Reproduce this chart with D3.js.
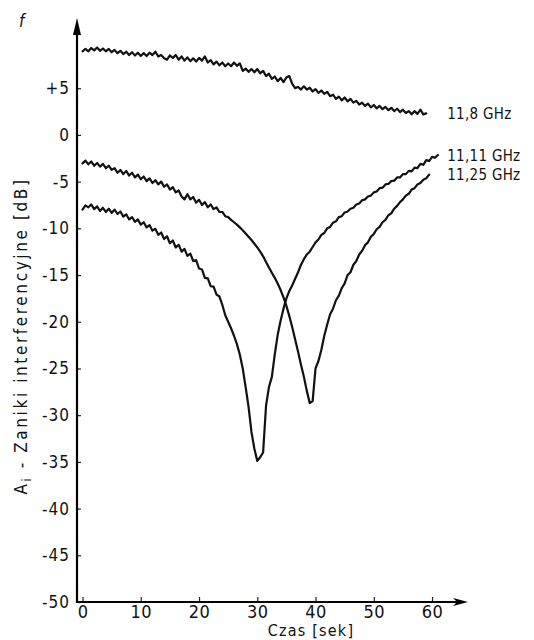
<!DOCTYPE html>
<html>
<head>
<meta charset="utf-8">
<script src="https://cdn.jsdelivr.net/npm/d3@7"></script>
<style>
  body { margin: 0; background: #fff; }
  text { font-family: "DejaVu Sans Condensed", "DejaVu Sans", sans-serif; fill: #111; }
</style>
</head>
<body>
<svg id="chart" width="534" height="640"></svg>
<script>
// Recorder traces of interference fading, sampled every 0.5 s
const step = 0.5;

const seriesNames = ["11,8 GHz", "11,11 GHz", "11,25 GHz"];

const fade118 = [
  8.95, 9.20, 8.95, 9.30, 9.05, 9.35, 9.00, 9.25, 8.95, 9.20,
  8.85, 9.10, 8.75, 9.00, 8.65, 8.90, 8.55, 8.85, 8.50, 8.80,
  8.45, 8.75, 8.45, 8.80, 8.55, 8.90, 8.40, 8.55, 8.20, 8.05,
  8.50, 8.25, 8.55, 8.05, 8.40, 7.95, 8.30, 7.90, 8.20, 7.85,
  8.25, 7.95, 8.40, 7.75, 8.00, 7.55, 7.85, 7.45, 7.75, 7.35,
  7.65, 7.35, 7.75, 7.40, 7.65, 6.85, 7.10, 6.75, 7.05, 6.70,
  7.05, 6.60, 6.85, 6.30, 6.55, 6.00, 6.25, 5.75, 6.10, 5.65,
  6.15, 6.30, 5.45, 5.00, 5.15, 4.85, 5.20, 4.85, 5.05, 4.65,
  4.90, 4.50, 4.75, 4.40, 4.60, 4.15, 4.30, 3.85, 4.10, 3.70,
  4.00, 3.60, 3.85, 3.45, 3.65, 3.25, 3.45, 3.10, 3.35, 2.95,
  3.20, 2.85, 3.10, 2.75, 3.00, 2.65, 2.90, 2.55, 2.80, 2.45,
  2.70, 2.35, 2.55, 2.20, 2.55, 2.25, 2.70, 2.20, 2.30
];

const fade1111 = [
  -8.00, -7.55, -7.75, -7.45, -7.95, -7.65, -8.15, -7.80, -8.25, -7.90,
  -8.35, -8.00, -8.45, -8.20, -8.75, -8.50, -9.05, -8.80, -9.30, -9.05,
  -9.60, -9.35, -9.90, -9.65, -10.25, -10.05, -10.70, -10.45, -11.15, -10.85,
  -11.60, -11.30, -12.05, -11.75, -12.50, -12.20, -12.95, -12.70, -13.50, -13.40,
  -14.30, -14.40, -15.30, -15.35, -16.20, -16.25, -17.10, -17.30, -18.20, -19.30,
  -20.00, -20.70, -21.50, -22.40, -23.50, -25.00, -27.00, -29.10, -31.80, -33.60,
  -34.90, -34.50, -34.00, -29.00, -27.00, -25.90, -23.50, -21.40, -19.90, -18.60,
  -17.50, -16.70, -16.10, -15.40, -14.70, -13.90, -13.30, -12.80, -12.50, -12.00,
  -11.50, -11.20, -10.70, -10.50, -10.00, -9.85, -9.40, -9.25, -8.80, -8.70,
  -8.30, -8.20, -7.90, -7.80, -7.45, -7.35, -7.00, -6.90, -6.60, -6.50,
  -6.15, -6.05, -5.70, -5.65, -5.30, -5.25, -4.95, -4.90, -4.55, -4.55,
  -4.20, -4.20, -3.85, -3.90, -3.50, -3.55, -3.10, -3.20, -2.70, -2.80,
  -2.35, -2.45, -2.15
];

const fade1125 = [
  -3.05, -2.75, -3.15, -2.85, -3.30, -3.00, -3.40, -3.10, -3.55, -3.30,
  -3.75, -3.55, -4.05, -3.75, -4.20, -3.85, -4.35, -4.05, -4.55, -4.25,
  -4.75, -4.45, -4.95, -4.65, -5.15, -4.85, -5.30, -5.00, -5.55, -5.30,
  -5.85, -5.60, -6.15, -5.95, -6.60, -6.90, -6.35, -6.90, -6.65, -7.25,
  -6.95, -7.50, -7.20, -7.75, -7.45, -7.95, -7.75, -8.25, -8.25, -8.70,
  -8.80, -9.10, -9.35, -9.60, -9.90, -10.20, -10.55, -10.90, -11.25, -11.65,
  -12.05, -12.50, -13.00, -13.60, -14.20, -14.75, -15.30, -15.90, -16.60, -17.40,
  -18.30, -19.40, -20.60, -21.90, -23.20, -24.60, -25.90, -27.40, -28.70, -28.50,
  -25.00, -24.20, -23.00, -21.50, -20.30, -19.20, -18.60, -17.70, -17.20, -16.40,
  -15.90, -15.00, -14.70, -13.90, -13.50, -12.80, -12.40, -11.80, -11.50, -10.90,
  -10.60, -10.10, -9.85, -9.35, -9.10, -8.60, -8.40, -7.90, -7.60, -7.20,
  -6.90, -6.50, -6.30, -5.85, -5.70, -5.30, -5.15, -4.80, -4.65, -4.25
];

const yTicks = [5, 0, -5, -10, -15, -20, -25, -30, -35, -40, -45, -50];
const yTickLabels = ["+5", "0", "-5", "-10", "-15", "-20", "-25", "-30", "-35", "-40", "-45", "-50"];
const xTicks = [0, 10, 20, 30, 40, 50, 60];

const svg = d3.select("#chart");

const x = d3.scaleLinear().domain([-0.95, 66]).range([77, 467]);
const y = d3.scaleLinear().domain([-50, 12.3]).range([602, 20]);

// y axis: ticks point inwards, labels on the left
const yAxis = svg.append("g")
  .attr("transform", `translate(${x(-0.95)},0)`)
  .call(d3.axisLeft(y).tickValues(yTicks)
    .tickFormat((d, i) => yTickLabels[i])
    .tickSize(-4).tickSizeOuter(0).tickPadding(7));
yAxis.select(".domain").remove();
yAxis.selectAll(".tick line").attr("stroke", "#222").attr("stroke-width", 1.2);
yAxis.selectAll(".tick text")
  .style("font-size", "17px").attr("letter-spacing", "1px").attr("fill", "#111");

// x axis
const xAxis = svg.append("g")
  .attr("transform", `translate(0,${y(-50)})`)
  .call(d3.axisBottom(x).tickValues(xTicks)
    .tickSize(-5).tickSizeOuter(0).tickPadding(3));
xAxis.select(".domain").remove();
xAxis.selectAll(".tick line").attr("stroke", "#222").attr("stroke-width", 1.2);
xAxis.selectAll(".tick text")
  .style("font-size", "18px").attr("letter-spacing", "0.5px").attr("fill", "#111");

// axis lines with arrow heads
const x0 = x(-0.95), y0 = y(-50);
svg.append("line").attr("x1", x0).attr("y1", y0 + 1).attr("x2", x0).attr("y2", y(12.3) + 6)
  .attr("stroke", "#000").attr("stroke-width", 2.2);
svg.append("line").attr("x1", x0 - 1).attr("y1", y0).attr("x2", x(66) - 6).attr("y2", y0)
  .attr("stroke", "#000").attr("stroke-width", 2.2);
svg.append("path")
  .attr("d", `M${x0},${y(12.3) - 2} L${x0 - 4},${y(12.3) + 15} L${x0 + 4},${y(12.3) + 15} Z`)
  .attr("fill", "#000");
svg.append("path")
  .attr("d", `M${x(66) + 1},${y0} L${x(66) - 14},${y0 - 4} L${x(66) - 10},${y0} L${x(66) - 14},${y0 + 4} Z`)
  .attr("fill", "#000");

// traces
const line = d3.line()
  .x((d, i) => x(i * step))
  .y(d => y(d));

const traces = [fade118, fade1111, fade1125];
svg.append("g").selectAll("path")
  .data(traces)
  .join("path")
  .attr("d", line)
  .attr("fill", "none")
  .attr("stroke", "#111")
  .attr("stroke-width", 2.2)
  .attr("stroke-linejoin", "round")
  .attr("stroke-linecap", "round");

// frequency labels at the end of each trace
svg.append("g").selectAll("text")
  .data(traces)
  .join("text")
  .attr("x", x(62.6))
  .attr("y", d => y(d[d.length - 1]))
  .attr("dy", "0.38em")
  .style("font-size", "15px")
  .attr("letter-spacing", "0.3px")
  .text((d, i) => seriesNames[i]);

// axis titles
const yTitle = svg.append("text")
  .attr("transform", "translate(27,336) rotate(-90)")
  .attr("text-anchor", "middle")
  .style("font-size", "17px")
  .attr("letter-spacing", "2.6px");
yTitle.append("tspan").text("A");
yTitle.append("tspan").attr("dy", 4).style("font-size", "12px").text("i");
yTitle.append("tspan").attr("dy", -4).text(" - Zaniki interferencyjne [dB]");

svg.append("text")
  .attr("x", 311).attr("y", 636)
  .attr("text-anchor", "middle")
  .style("font-size", "16px")
  .attr("letter-spacing", "1.2px")
  .text("Czas [sek]");

svg.append("text")
  .attr("x", 19).attr("y", 27)
  .style("font-size", "17px")
  .style("font-style", "italic")
  .text("f");
</script>
</body>
</html>
